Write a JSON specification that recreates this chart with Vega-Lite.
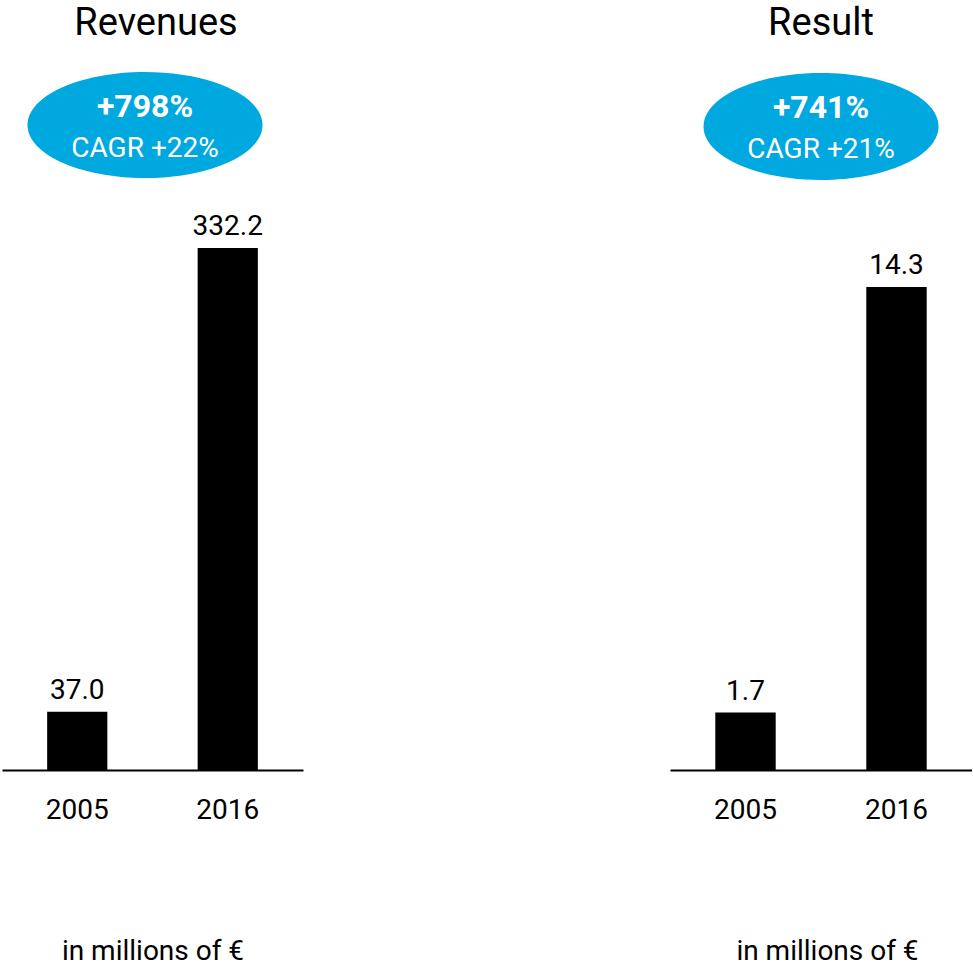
{
  "$schema": "https://vega.github.io/schema/vega-lite/v6.json",
  "padding": {"left": 2, "top": 0, "right": 0, "bottom": 0},
  "background": "white",
  "config": {"view": {"stroke": null}, "font": "Roboto", "text": {"font": "Roboto"}},
  "spacing": 367,
  "bounds": "flush",
  "datasets": {
    "revenues": [{"year": "2005", "value": 37.0}, {"year": "2016", "value": 332.2}],
    "result": [{"year": "2005", "value": 1.7}, {"year": "2016", "value": 14.3}],
    "revenues_badge": [{"title": "Revenues", "growth": "+798%", "cagr": "CAGR +22%"}],
    "result_badge": [{"title": "Result", "growth": "+741%", "cagr": "CAGR +21%"}]
  },
  "hconcat": [
    {
      "width": 301,
      "height": 770,
      "layer": [
        {
          "data": {"name": "revenues"},
          "mark": {"type": "bar", "color": "black"},
          "encoding": {
            "x": {
              "field": "year", "type": "nominal",
              "scale": {"paddingInner": 0.6, "paddingOuter": 0.3},
              "title": "in millions of €",
              "axis": {"orient": "bottom", "domainColor": "black", "domainWidth": 2, "ticks": false, "tickSize": 0, "labelAngle": 0, "labelFontSize": 28, "labelColor": "black", "labelPadding": 48, "labelBaseline": "alphabetic", "labelFont": "Roboto", "titleFont": "Roboto", "titleFontSize": 28, "titleFontWeight": "normal", "titleColor": "black", "titleBaseline": "alphabetic", "titleY": 189, "grid": false}
            },
            "y": {"field": "value", "type": "quantitative", "scale": {"domain": [0, 490], "nice": false}, "axis": null}
          }
        },
        {
          "data": {"name": "revenues"},
          "mark": {"type": "text", "baseline": "alphabetic", "dy": -13, "fontSize": 28, "color": "black"},
          "encoding": {
            "x": {"field": "year", "type": "nominal"},
            "y": {"field": "value", "type": "quantitative"},
            "text": {"field": "value", "type": "quantitative", "format": ".1f"}
          }
        },
        {
          "data": {"name": "revenues_badge"},
          "mark": {"type": "text", "baseline": "alphabetic", "fontSize": 38, "color": "black", "dx": 3.5},
          "encoding": {"y": {"datum": 467.73, "type": "quantitative"}, "text": {"field": "title"}}
        },
        {
          "data": {"name": "revenues_badge"},
          "mark": {"type": "point", "shape": "M -1.064 0 A 1 0.451 0 1 0 0.936 0 A 1 0.451 0 1 0 -1.064 0 Z", "size": 55225, "filled": true, "color": "#00A8E0", "opacity": 1, "strokeWidth": 0},
          "encoding": {"y": {"datum": 410.45, "type": "quantitative"}}
        },
        {
          "data": {"name": "revenues_badge"},
          "mark": {"type": "text", "baseline": "alphabetic", "fontSize": 32, "fontWeight": "bold", "color": "white", "dx": -7.5},
          "encoding": {"y": {"datum": 415.53, "type": "quantitative"}, "text": {"field": "growth"}}
        },
        {
          "data": {"name": "revenues_badge"},
          "mark": {"type": "text", "baseline": "alphabetic", "fontSize": 28, "color": "white", "dx": -7.5},
          "encoding": {"y": {"datum": 390.13, "type": "quantitative"}, "text": {"field": "cagr"}}
        }
      ]
    },
    {
      "width": 302,
      "height": 770,
      "layer": [
        {
          "data": {"name": "result"},
          "mark": {"type": "bar", "color": "black"},
          "encoding": {
            "x": {
              "field": "year", "type": "nominal",
              "scale": {"paddingInner": 0.6, "paddingOuter": 0.3},
              "title": "in millions of €",
              "axis": {"orient": "bottom", "domainColor": "black", "domainWidth": 2, "ticks": false, "tickSize": 0, "labelAngle": 0, "labelFontSize": 28, "labelColor": "black", "labelPadding": 48, "labelBaseline": "alphabetic", "labelFont": "Roboto", "titleFont": "Roboto", "titleFontSize": 28, "titleFontWeight": "normal", "titleColor": "black", "titleBaseline": "alphabetic", "titleY": 189, "titleX": 157, "grid": false}
            },
            "y": {"field": "value", "type": "quantitative", "scale": {"domain": [0, 22.8], "nice": false}, "axis": null}
          }
        },
        {
          "data": {"name": "result"},
          "mark": {"type": "text", "baseline": "alphabetic", "dy": -13, "fontSize": 28, "color": "black"},
          "encoding": {
            "x": {"field": "year", "type": "nominal"},
            "y": {"field": "value", "type": "quantitative"},
            "text": {"field": "value", "type": "quantitative", "format": ".1f"}
          }
        },
        {
          "data": {"name": "result_badge"},
          "mark": {"type": "text", "baseline": "alphabetic", "fontSize": 38, "color": "black"},
          "encoding": {"y": {"datum": 21.764, "type": "quantitative"}, "text": {"field": "title"}}
        },
        {
          "data": {"name": "result_badge"},
          "mark": {"type": "point", "shape": "M -1 0 A 1 0.455 0 1 0 1 0 A 1 0.455 0 1 0 -1 0 Z", "size": 55225, "filled": true, "color": "#00A8E0", "opacity": 1, "strokeWidth": 0},
          "encoding": {"y": {"datum": 19.054, "type": "quantitative"}}
        },
        {
          "data": {"name": "result_badge"},
          "mark": {"type": "text", "baseline": "alphabetic", "fontSize": 32, "fontWeight": "bold", "color": "white"},
          "encoding": {"y": {"datum": 19.306, "type": "quantitative"}, "text": {"field": "growth"}}
        },
        {
          "data": {"name": "result_badge"},
          "mark": {"type": "text", "baseline": "alphabetic", "fontSize": 28, "color": "white"},
          "encoding": {"y": {"datum": 18.122, "type": "quantitative"}, "text": {"field": "cagr"}}
        }
      ]
    }
  ]
}
